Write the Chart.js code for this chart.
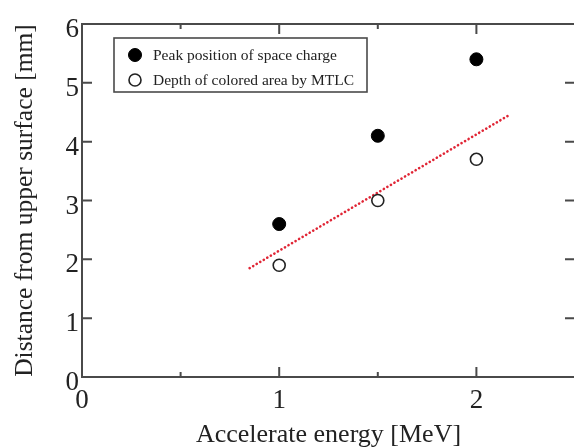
<!DOCTYPE html>
<html>
<head>
<meta charset="utf-8">
<script src="https://cdn.jsdelivr.net/npm/chart.js@4/dist/chart.umd.min.js"></script>
<style>
  html, body { margin: 0; padding: 0; background: #fff; overflow: hidden; }
  #wrap { width: 574px; height: 448px; overflow: hidden; position: relative; }
  canvas { display: block; }
</style>
</head>
<body>
<div id="wrap"><canvas id="c" width="583" height="448"></canvas></div>
<script>
// ---- data ----
const energies = [1, 1.5, 2];                 // MeV
const peakPosition = [2.6, 4.1, 5.4];         // mm, filled circles
const coloredDepth = [1.9, 3.0, 3.7];         // mm, open circles
const fitLineX = [0.85, 2.16];                // red dotted guide line ends
const fitLineY = [1.85, 4.44];
const seriesLabels = ['Peak position of space charge', 'Depth of colored area by MTLC'];
const xTitle = 'Accelerate energy [MeV]';
const yTitle = 'Distance from upper surface [mm]';
const xRange = [0, 2.5];
const yRange = [0, 6];

const SERIF = "'Liberation Serif', 'Times New Roman', serif";
const frameColor = '#4a4a4a';

const toPts = (xs, ys) => xs.map((x, i) => ({ x: x, y: ys[i] }));

const frameTicksPlugin = {
  id: 'frameTicks',
  afterDatasetsDraw(chart) {
    const { ctx, chartArea: a, scales } = chart;
    const xs = scales.x, ys = scales.y;
    ctx.save();
    ctx.strokeStyle = frameColor;
    ctx.lineWidth = 2;
    ctx.strokeRect(a.left, a.top, a.right - a.left, a.bottom - a.top);
    ctx.beginPath();
    xs.ticks.forEach(t => {
      const px = xs.getPixelForValue(t.value);
      const major = Math.abs(t.value - Math.round(t.value)) < 1e-9;
      const len = major ? 10 : 5;
      ctx.moveTo(px, a.bottom); ctx.lineTo(px, a.bottom - len);
      ctx.moveTo(px, a.top); ctx.lineTo(px, a.top + len);
    });
    ys.ticks.forEach(t => {
      const py = ys.getPixelForValue(t.value);
      ctx.moveTo(a.left, py); ctx.lineTo(a.left + 10, py);
      ctx.moveTo(a.right, py); ctx.lineTo(a.right - 10, py);
    });
    ctx.stroke();
    ctx.restore();
  }
};

const boxLegendPlugin = {
  id: 'boxLegend',
  afterDraw(chart) {
    const { ctx, chartArea: a } = chart;
    const bx = a.left + 32, by = a.top + 14, bw = 253, bh = 54;
    ctx.save();
    ctx.fillStyle = '#fff';
    ctx.fillRect(bx, by, bw, bh);
    ctx.strokeStyle = frameColor;
    ctx.lineWidth = 1.6;
    ctx.strokeRect(bx, by, bw, bh);
    ctx.font = '15.5px ' + SERIF;
    ctx.textBaseline = 'middle';
    ctx.textAlign = 'left';
    [0, 1].forEach(i => {
      const ds = chart.data.datasets[i];
      const cy = by + 17 + i * 25;
      const cx = bx + 21;
      ctx.beginPath();
      ctx.arc(cx, cy, ds.pointRadius, 0, Math.PI * 2);
      ctx.fillStyle = ds.pointBackgroundColor;
      ctx.fill();
      ctx.lineWidth = ds.pointBorderWidth;
      ctx.strokeStyle = ds.pointBorderColor;
      ctx.stroke();
      ctx.fillStyle = '#222';
      ctx.fillText(ds.label, bx + 39, cy + 1);
    });
    ctx.restore();
  }
};

new Chart(document.getElementById('c'), {
  type: 'scatter',
  data: {
    datasets: [
      {
        label: seriesLabels[0],
        data: toPts(energies, peakPosition),
        pointRadius: 6.5,
        pointBackgroundColor: '#000',
        pointBorderColor: '#000',
        pointBorderWidth: 1,
        showLine: false
      },
      {
        label: seriesLabels[1],
        data: toPts(energies, coloredDepth),
        pointRadius: 6,
        pointBackgroundColor: '#fff',
        pointBorderColor: '#222',
        pointBorderWidth: 1.6,
        showLine: false
      },
      {
        label: 'fit',
        data: toPts(fitLineX, fitLineY),
        showLine: true,
        pointRadius: 0,
        borderColor: '#e02535',
        borderWidth: 2.6,
        borderDash: [0.1, 4],
        borderCapStyle: 'round',
        fill: false
      }
    ]
  },
  options: {
    responsive: false,
    animation: false,
    events: [],
    layout: { padding: { top: 24, right: 1, left: 0, bottom: 0 } },
    plugins: { legend: { display: false }, tooltip: { enabled: false } },
    scales: {
      x: {
        type: 'linear',
        min: xRange[0], max: xRange[1],
        grid: { display: false, drawTicks: false },
        border: { display: false },
        ticks: {
          stepSize: 0.5,
          padding: 8,
          color: '#222',
          font: { family: SERIF, size: 27 },
          maxRotation: 0,
          autoSkip: false,
          callback: v => (Math.abs(v - Math.round(v)) < 1e-9 ? String(Math.round(v)) : '')
        },
        title: {
          display: true, text: xTitle, color: '#222',
          font: { family: SERIF, size: 26, lineHeight: 1.0 },
          padding: { top: 0, bottom: 0 }
        },
        afterFit(s) { s.height = 71; }
      },
      y: {
        type: 'linear',
        min: yRange[0], max: yRange[1],
        grid: { display: false, drawTicks: false },
        border: { display: false },
        ticks: {
          stepSize: 1,
          padding: 3,
          labelOffset: 6,
          color: '#222',
          font: { family: SERIF, size: 27 }
        },
        title: {
          display: true, text: yTitle, color: '#222',
          font: { family: SERIF, size: 25.5, lineHeight: 1.0 },
          padding: { top: 13, bottom: 0 }
        },
        afterFit(s) { s.width = 82; }
      }
    }
  },
  plugins: [frameTicksPlugin, boxLegendPlugin]
});
</script>
</body>
</html>
